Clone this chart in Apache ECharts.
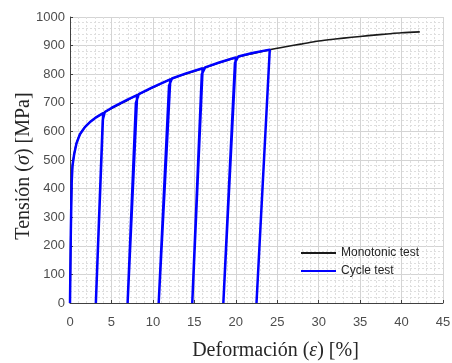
<!DOCTYPE html>
<html>
<head>
<meta charset="utf-8">
<script src="https://cdn.jsdelivr.net/npm/echarts@6/dist/echarts.min.js"></script>
<style>
html,body{margin:0;padding:0;background:#fff;}
#chart{width:452px;height:363px;}
</style>
</head>
<body>
<div id="chart"></div>
<script>
// Monotonic test (black)
const monoStrain = [0, 0.1, 0.2, 0.3, 0.5, 0.8, 1.2, 1.8, 2.5, 3.2, 4, 5, 6, 7, 8, 10, 12, 14, 16, 18, 20, 22, 24, 26, 28, 30, 32, 34, 36, 38, 40, 42.2];
const monoStress = [0, 250, 420, 480, 520, 560, 590, 615, 635, 650, 664, 680, 695, 710, 726, 753, 781, 801, 820, 840, 858, 872, 885, 896, 906, 916, 923, 929, 935, 940, 945, 948];

// Cycle test (blue), path in order: loading, unloading, reloading
const cycleStrain = [0, 0.1, 0.2, 0.3, 0.5, 0.8, 1.2, 1.8, 2.5, 3.2, 4.0,
  3.12, 3.95, 4.2, 5, 6, 7, 8.1,
  6.95, 7.95, 8.3, 10, 12.1,
  10.7, 11.95, 12.3, 14, 16.0,
  14.75, 15.9, 16.3, 18, 20.0,
  18.5, 19.9, 20.3, 22, 24.1,
  22.5];
const cycleStress = [0, 250, 420, 480, 520, 560, 590, 615, 635, 650, 664,
  0, 640, 668, 682, 697, 712, 727,
  0, 700, 730, 755, 782,
  0, 760, 785, 803, 821,
  0, 800, 824, 841, 859,
  0, 840, 862, 874, 886,
  0];

const seriesNames = ['Monotonic test', 'Cycle test'];
const xTitle = 'Deformación ({i|ε}) [%]';
const yTitle = 'Tensión ({i|σ}) [MPa]';

const zip = (a, b) => a.map((v, i) => [v, b[i]]);

const chart = echarts.init(document.getElementById('chart'));
const tickFont = {color: '#4d4d4d', fontSize: 13, fontFamily: 'Liberation Sans, Arial, sans-serif', formatter: v => String(v)};
const serif = 'Liberation Serif, DejaVu Serif, serif';
const titleRich = {i: {fontStyle: 'italic', fontSize: 20, fontFamily: serif, color: '#262626'}};
const minorLine = {show: true, lineStyle: {color: '#dedede', width: 1, type: [2, 2]}};
chart.setOption({
  animation: false,
  grid: {left: 70, right: 9, top: 17, bottom: 60, outerBoundsMode: 'none', containLabel: false},
  legend: {
    orient: 'vertical', left: 300, top: 247, padding: 0, itemWidth: 35, itemHeight: 12, itemGap: 6,
    itemStyle: {opacity: 0},
    textStyle: {fontSize: 12, color: '#262626', fontFamily: 'Liberation Sans, Arial, sans-serif'},
    data: seriesNames
  },
  xAxis: {
    type: 'value', min: 0, max: 45, interval: 5,
    name: xTitle, nameLocation: 'middle', nameGap: 38, nameMoveOverlap: false,
    nameTextStyle: {color: '#262626', fontSize: 20, fontFamily: serif, padding: [0, 0, 0, 38], rich: titleRich},
    axisLine: {show: true, onZero: false, lineStyle: {color: '#404040', width: 1}},
    axisTick: {show: true, inside: true, length: 3, lineStyle: {color: '#404040'}},
    axisLabel: Object.assign({margin: 13}, tickFont),
    splitLine: {show: true, lineStyle: {color: '#d4d4d4', width: 1}},
    minorTick: {show: false, splitNumber: 5},
    minorSplitLine: minorLine
  },
  yAxis: {
    type: 'value', min: 0, max: 1000, interval: 100,
    name: yTitle, nameLocation: 'middle', nameGap: 36, nameMoveOverlap: false,
    nameTextStyle: {color: '#262626', fontSize: 20, fontFamily: serif, padding: [0, 12, 0, 0], rich: titleRich},
    axisLine: {show: true, onZero: false, lineStyle: {color: '#404040', width: 1}},
    axisTick: {show: true, inside: true, length: 3, lineStyle: {color: '#404040'}},
    axisLabel: Object.assign({margin: 5}, tickFont),
    splitLine: {show: true, lineStyle: {color: '#d4d4d4', width: 1}},
    minorTick: {show: false, splitNumber: 5},
    minorSplitLine: minorLine
  },
  series: [
    {
      name: seriesNames[0], type: 'line', data: zip(monoStrain, monoStress),
      showSymbol: false, symbol: 'none', smooth: 0.3,
      lineStyle: {color: '#1a1a1a', width: 1.6}, itemStyle: {color: '#1a1a1a'}, z: 2
    },
    {
      name: seriesNames[1], type: 'line', data: zip(cycleStrain, cycleStress),
      showSymbol: false, symbol: 'none',
      lineStyle: {color: '#0000ff', width: 2.5}, itemStyle: {color: '#0000ff'}, z: 3
    }
  ]
});
</script>
</body>
</html>
